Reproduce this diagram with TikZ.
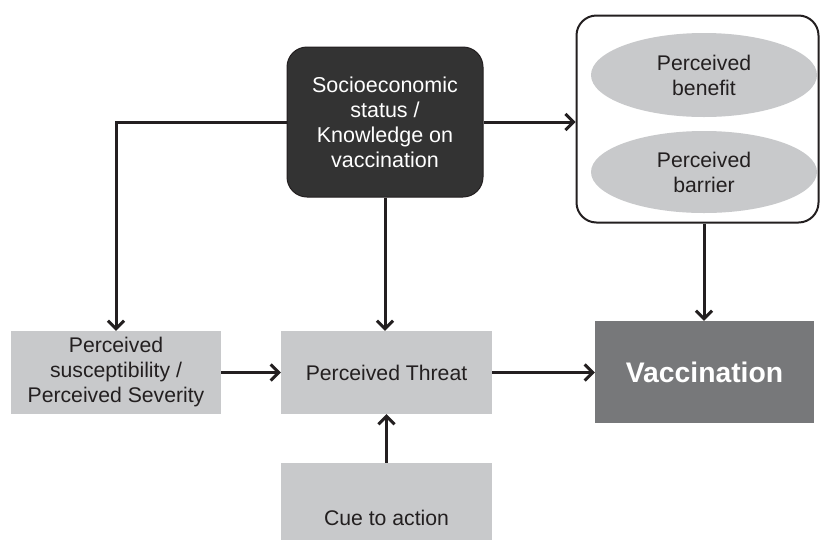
\documentclass[tikz,border=0pt]{standalone}
\usepackage{fontspec}
\setmainfont{Liberation Sans}
\usetikzlibrary{arrows.meta,shapes.geometric}
\definecolor{boxgray}{HTML}{C8C9CB}
\definecolor{vaccgray}{HTML}{77787A}
\definecolor{darkfill}{HTML}{333333}
\definecolor{ink}{HTML}{231F20}
\tikzset{
  lightbox/.style={rectangle, fill=boxgray, inner sep=0pt, align=center, text=ink,
    font=\fontsize{21.2}{25}\selectfont},
  ellbox/.style={ellipse, fill=boxgray, inner sep=0pt, align=center, text=ink,
    font=\fontsize{21.2}{25}\selectfont},
  arr/.style={line width=3pt, draw=ink, -{Straight Barb[length=8pt,width=16pt,line width=3pt]}},
}
\begin{document}
\begin{tikzpicture}[x=1pt,y=-1pt]
\clip (0,0) rectangle (821,539);
\fill[white] (0,0) rectangle (821,539);
% nodes
\node[rectangle, rounded corners=20pt, fill=darkfill, draw=ink, line width=1pt,
  minimum width=196pt, minimum height=150pt, inner sep=0pt, align=center,
  text=white, font=\fontsize{21.5}{25}\selectfont] (socio) at (385,122)
  {Socioeconomic\\status /\\Knowledge on\\vaccination};
\node[rectangle, rounded corners=20pt, draw=ink, fill=white, line width=2pt,
  minimum width=242pt, minimum height=207pt, inner sep=0pt] (rb) at (697.5,119) {};
\node[ellbox, minimum width=226pt, minimum height=84pt] (e1) at (704,75) {Perceived\\benefit};
\node[ellbox, minimum width=226pt, minimum height=82pt] (e2) at (704,172) {Perceived\\barrier};
\node[lightbox, minimum width=210pt, minimum height=83pt] (left) at (116,372.5)
  {Perceived\\susceptibility /\\Perceived Severity};
\node[lightbox, minimum width=211pt, minimum height=83pt] (threat) at (386.5,372.5)
  {Perceived Threat};
\node[rectangle, fill=vaccgray, minimum width=219pt, minimum height=102pt, inner sep=0pt,
  text=white, font=\fontsize{28.3}{32}\selectfont\bfseries] (vacc) at (704.5,372) {Vaccination};
\node[lightbox, minimum width=211pt, minimum height=110pt] (cue) at (386.5,518)
  {Cue to action};
% connectors
\draw[arr] (socio.west) -| (left.north);
\draw[arr] (socio.south) -- (socio.south |- threat.north);
\draw[arr] (socio.east) -- (socio.east -| rb.west);
\coordinate (rbout) at (e1.south |- rb.south);
\draw[arr] (rbout) -- (rbout |- vacc.north);
\draw[arr] (left.east) -- (threat.west);
\draw[arr] (threat.east) -- (threat.east -| vacc.west);
\draw[arr] (cue.north) -- (threat.south);
\end{tikzpicture}
\end{document}
